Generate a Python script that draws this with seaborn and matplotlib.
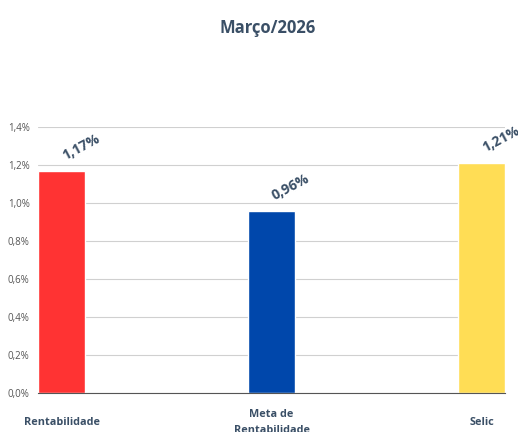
import pandas as pd
import seaborn as sns
from matplotlib import pyplot as plt

categories = ["Rentabilidade", "Meta de\nRentabilidade", "Selic"]
values = [1.17, 0.96, 1.21]
labels = ["1,17%", "0,96%", "1,21%"]
colors = ["#FF3333", "#0047AB", "#FFDD55"]
yticks = [0, 0.2, 0.4, 0.6, 0.8, 1.0, 1.2, 1.4]
title = "Março/2026"

TEXT = "#3a4f66"


def main():
    sns.set_style("white")
    plt.rcParams["font.family"] = ["Open Sans", "DejaVu Sans"]

    df = pd.DataFrame({"cat": categories, "val": values})

    fig = plt.figure(figsize=(5.18, 4.32), dpi=100)
    ax = fig.add_axes([0.0734, 0.0903, 0.9016, 0.6157])

    sns.barplot(df, x="cat", y="val", hue="cat", palette=colors,
                width=0.224, legend=False, ax=ax, saturation=1)

    ax.set_xlim(-0.112, 2.112)
    ax.set_ylim(0, 1.4)
    ax.set_yticks(yticks)
    ax.set_yticklabels([f"{t:.1f}%".replace(".", ",") for t in yticks],
                       fontsize=7, color="#555555")
    ax.grid(axis="y", color="#d0d0d0", linewidth=0.8)
    ax.set_axisbelow(True)
    for s in ["top", "right", "left"]:
        ax.spines[s].set_visible(False)
    ax.spines["bottom"].set_color("#555555")
    ax.spines["bottom"].set_linewidth(0.8)
    ax.tick_params(axis="y", length=0, pad=6)
    ax.tick_params(axis="x", length=0, pad=21)
    for t in ax.get_xticklabels():
        t.set_fontsize(7.8)
        t.set_fontweight("bold")
        t.set_color(TEXT)
        t.set_verticalalignment("center")
        t.set_linespacing(1.6)
    ax.set_xlabel("")
    ax.set_ylabel("")

    for i, (v, lab) in enumerate(zip(values, labels)):
        ax.annotate(lab, (i, v), xytext=(14, 17), textcoords="offset points",
                    ha="center", va="center", rotation=28, fontsize=10,
                    fontweight="bold", color=TEXT, annotation_clip=False)

    fig.suptitle(title, x=0.517, y=0.955, fontsize=12, fontweight="bold", color=TEXT)

    fig.savefig("out.png", dpi=100)
    plt.close(fig)


if __name__ == "__main__":
    main()
